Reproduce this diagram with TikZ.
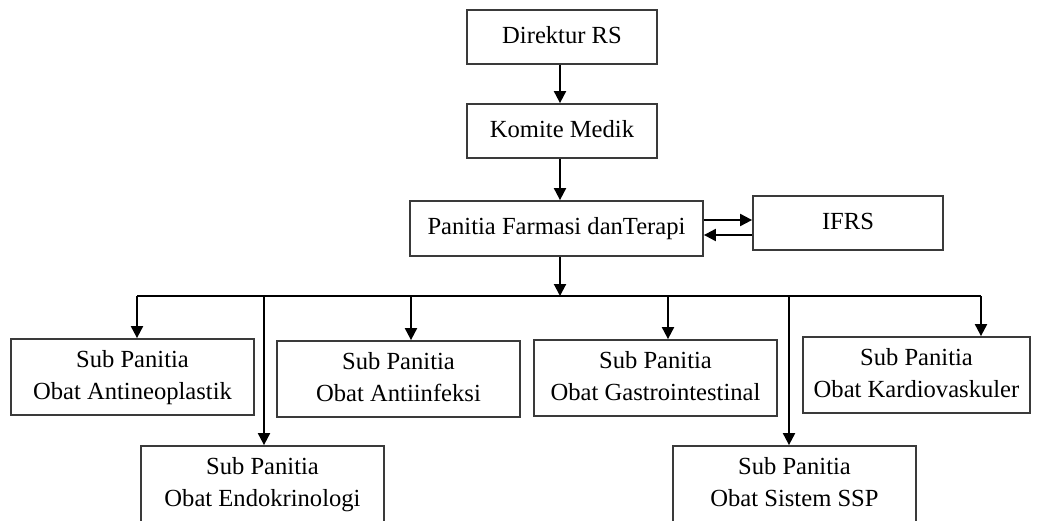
\documentclass[tikz,border=0pt]{standalone}
\usepackage{fontspec}
\setmainfont{Liberation Serif}
\usetikzlibrary{arrows.meta}
\definecolor{boxline}{HTML}{3A3A3A}
\begin{document}
\begin{tikzpicture}[x=1pt,y=-1pt,
  box/.style={draw=boxline, line width=1.8pt, fill=white, inner sep=0pt, align=center,
    font=\fontsize{24.6pt}{32pt}\selectfont, text=black},
  conn/.style={draw=black, line width=2pt},
  arr/.style={conn, -{Triangle[length=12pt,width=12pt]}}]
\path[use as bounding box, clip] (0,0) rectangle (1039,520);
\fill[white] (0,0) rectangle (1039,520);

% top chain
\node[box, minimum width=190pt, minimum height=54pt] (dir) at (562,37) {\strut Direktur RS};
\node[box, minimum width=190pt, minimum height=54pt] (kom) at (562,131) {\strut Komite Medik};
\node[box, minimum width=293pt, minimum height=55pt] (pft) at (556.5,228.5) {\strut Panitia Farmasi danTerapi};
\node[box, minimum width=190pt, minimum height=54pt] (ifrs) at (848,223) {\strut IFRS};

% sub committees
\node[box, minimum width=243pt, minimum height=76pt] (neo) at (132.5,377) {\strut Sub Panitia\\\strut Obat Antineoplastik};
\node[box, minimum width=243pt, minimum height=76pt] (inf) at (398.5,379) {\strut Sub Panitia\\\strut Obat Antiinfeksi};
\node[box, minimum width=243pt, minimum height=76pt] (gas) at (655.5,378) {\strut Sub Panitia\\\strut Obat Gastrointestinal};
\node[box, minimum width=227pt, minimum height=76pt] (kar) at (916.5,375) {\strut Sub Panitia\\\strut Obat Kardiovaskuler};
\node[box, minimum width=243pt, minimum height=76pt] (end) at (262.5,484) {\strut Sub Panitia\\\strut Obat Endokrinologi};
\node[box, minimum width=243pt, minimum height=76pt] (ssp) at (794.5,484) {\strut Sub Panitia\\\strut Obat Sistem SSP};

% bus coordinates
\coordinate (bneo) at (137,296);
\coordinate (bend) at (264,296);
\coordinate (binf) at (411,296);
\coordinate (bmid) at (560,296);
\coordinate (bgas) at (668,296);
\coordinate (bssp) at (789,296);
\coordinate (bkar) at (981,296);

% connectors
\draw[arr] (dir.south -| bmid) -- (kom.north -| bmid);
\draw[arr] (kom.south -| bmid) -- (pft.north -| bmid);
\draw[arr] (pft.south -| bmid) -- (bmid);
\draw[conn] (bneo) -- (bkar);
\draw[arr] (bneo) -- (bneo |- neo.north);
\draw[arr] (binf) -- (binf |- inf.north);
\draw[arr] (bgas) -- (bgas |- gas.north);
\draw[arr] (bkar) -- (bkar |- kar.north);
\draw[arr] (bend) -- (bend |- end.north);
\draw[arr] (bssp) -- (bssp |- ssp.north);

% PFT <-> IFRS
\draw[arr] (pft.east |- 0,220) -- (ifrs.west |- 0,220);
\draw[arr] (ifrs.west |- 0,235) -- (pft.east |- 0,235);
\end{tikzpicture}
\end{document}
